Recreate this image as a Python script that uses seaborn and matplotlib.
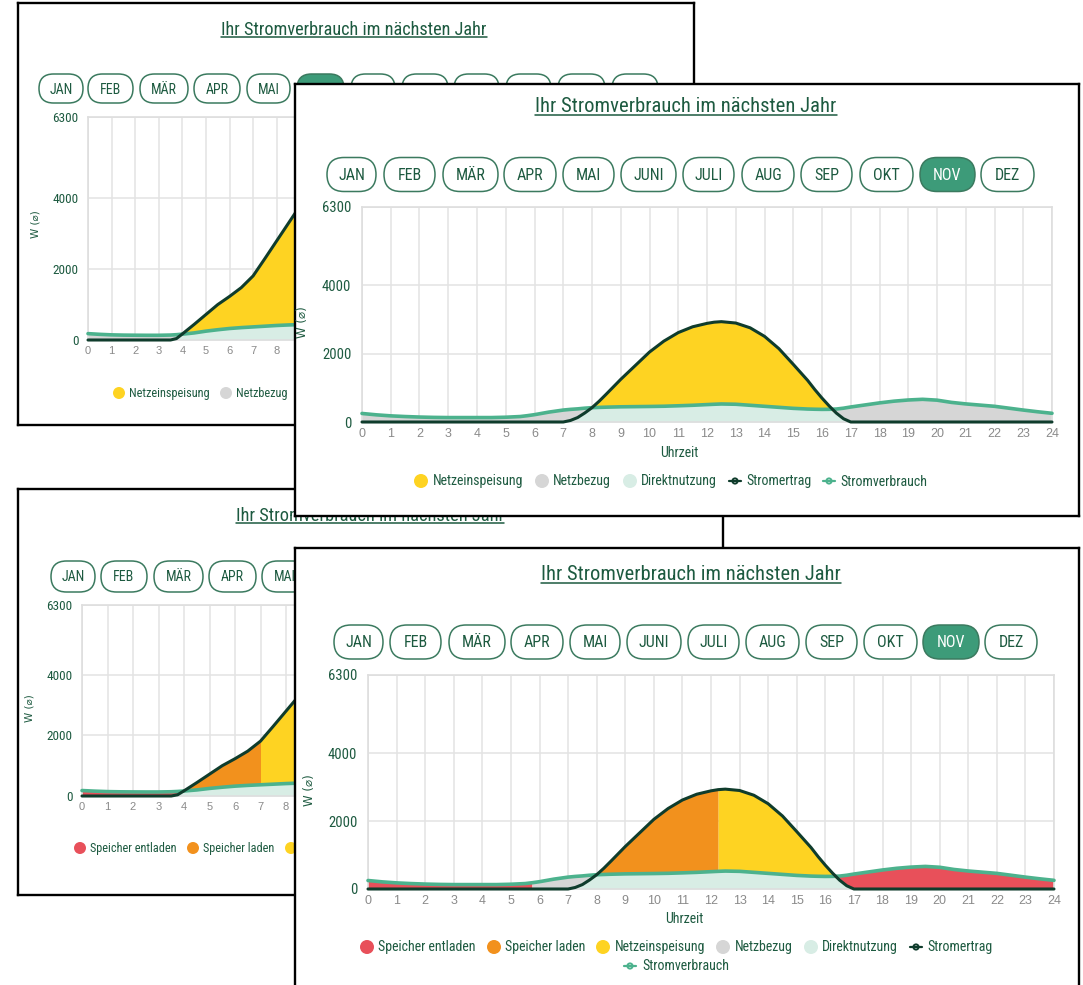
import numpy as np
import matplotlib
matplotlib.use("Agg")
import matplotlib.pyplot as plt
import seaborn as sns
from matplotlib.patches import FancyBboxPatch, Circle
from matplotlib.lines import Line2D

# ---------------- data ----------------
titel = "Ihr Stromverbrauch im nächsten Jahr"
monate = ["JAN", "FEB", "MÄR", "APR", "MAI", "JUNI", "JULI", "AUG", "SEP", "OKT", "NOV", "DEZ"]
x_ticks = list(range(0, 25))
y_ticks = [0, 2000, 4000, 6300]
x_label = "Uhrzeit"
y_label = "W (\u2300)"

legend_basis = ["Netzeinspeisung", "Netzbezug", "Direktnutzung", "Stromertrag", "Stromverbrauch"]
legend_speicher = ["Speicher entladen", "Speicher laden"] + legend_basis

# November (Stunden, W)
nov_stunden = [0, 0.5, 1, 1.5, 2, 2.5, 3, 3.5, 4, 4.5, 5, 5.5, 5.75, 6, 6.5, 7, 7.25, 7.5, 7.75, 8,
               8.25, 8.5, 9, 9.5, 10, 10.5, 11, 11.5, 12, 12.25, 12.5, 13, 13.5, 14, 14.5, 15, 15.5,
               15.75, 16, 16.25, 16.5, 16.75, 17, 17.5, 18, 18.5, 19, 19.5, 20, 20.5, 21, 21.5, 22,
               22.5, 23, 23.5, 24]
nov_stromertrag = [0, 0, 0, 0, 0, 0, 0, 0, 0, 0, 0, 0, 0, 0, 0, 0, 45, 130, 265, 420,
                   610, 820, 1250, 1650, 2050, 2370, 2620, 2790, 2890, 2925, 2940, 2900, 2760, 2510, 2150, 1690, 1220,
                   950, 700, 470, 260, 95, 0, 0, 0, 0, 0, 0, 0, 0, 0, 0, 0,
                   0, 0, 0, 0]
nov_stromverbrauch = [250, 210, 180, 160, 145, 135, 130, 130, 130, 130, 140, 160, 185, 215, 290, 350, 370, 385, 405, 420,
                      428, 435, 445, 450, 455, 462, 475, 490, 510, 520, 528, 520, 490, 460, 430, 400, 380,
                      374, 370, 372, 380, 405, 440, 500, 560, 610, 645, 665, 640, 575, 530, 495, 460,
                      405, 350, 300, 255]
nov_speicher_leer_bis = 5.75    # Speicher entladen bis
nov_speicher_voll_ab = 12.25    # Speicher laden bis

# Juni (Stunden, W) - sichtbarer Teil
juni_stunden = [0, 0.5, 1, 1.5, 2, 2.5, 3, 3.5, 3.75, 4, 4.5, 5, 5.5, 6, 6.5, 7, 7.5, 8, 8.5, 9, 9.5]
juni_stromertrag = [0, 0, 0, 0, 0, 0, 0, 0, 40, 170, 440, 720, 1000, 1230, 1480, 1810, 2300, 2800, 3300, 3800, 4250]
juni_stromverbrauch = [180, 160, 145, 138, 135, 133, 133, 140, 150, 165, 200, 250, 290, 325, 350, 370, 390, 410, 425, 435, 445]
juni_speicher_voll_ab = 7.0

# ---------------- style ----------------
sns.set_theme(style="white")
FONT = ['Liberation Sans Narrow', 'Roboto Condensed', 'Roboto', 'DejaVu Sans']
plt.rcParams['font.family'] = FONT

C_TEXT = '#1d5a40'
C_BTN = '#3b7a5f'
C_SEL = '#3d9b79'
C_YEL = '#fed322'
C_ORA = '#f2911d'
C_RED = '#e8505a'
C_GRAY = '#d6d6d6'
C_MINT = '#d8ede5'
C_ERTRAG = '#0f3c2c'
C_VERB = '#4cb28d'
C_GRID = '#e3e3e3'
C_TICK = '#8a8a8a'

W, H = 1083, 985
fig = plt.figure(figsize=(W / 100, H / 100), dpi=100)
fig.patch.set_facecolor('white')


def rect(x0, y0, x1, y1):
    return [x0 / W, 1 - y1 / H, (x1 - x0) / W, (y1 - y0) / H]


titles = []
farben = {"Speicher entladen": C_RED, "Speicher laden": C_ORA, "Netzeinspeisung": C_YEL,
          "Netzbezug": C_GRAY, "Direktnutzung": C_MINT, "Stromertrag": C_ERTRAG,
          "Stromverbrauch": C_VERB}


def panel(z, frame, title_pos, title_w, underline_y, buttons, btn_y, btn_h, btn_fs, selected,
          plot, tick_fs, ylab_pos, xlab_pos, lab_fs, legend, leg_fs, dot_r,
          stunden, ertrag, verbrauch, speicher=None, label_cut=None):
    x0, y0, x1, y1 = frame
    fa = fig.add_axes(rect(*frame), zorder=z)
    fa.set_xlim(x0, x1)
    fa.set_ylim(y1, y0)
    fa.set_xticks([])
    fa.set_yticks([])
    fa.set_facecolor('white')
    for s in fa.spines.values():
        s.set_color('black')
        s.set_linewidth(1.7)
    t = fa.text(title_pos[0], title_pos[1], titel, ha='center', va='center',
                fontsize=13, color=C_TEXT)
    titles.append((fa, t, title_w, underline_y))
    for lab, (bx0, bx1) in zip(monate, buttons):
        sel = lab == selected
        fa.add_patch(FancyBboxPatch((bx0, btn_y - btn_h / 2), bx1 - bx0, btn_h,
                                    boxstyle=f"round,pad=0,rounding_size={btn_h / 2}",
                                    fc=C_SEL if sel else 'white', ec=C_BTN, lw=1.1))
        if label_cut is not None and bx0 >= label_cut:
            continue   # label lies under the next panel
        fa.text((bx0 + bx1) / 2, btn_y + 1, lab, ha='center', va='center',
                fontsize=btn_fs, color='white' if sel else C_TEXT)
    fa.text(ylab_pos[0], ylab_pos[1], y_label, rotation=90, ha='center', va='center',
            fontsize=lab_fs, color=C_TEXT, family=['DejaVu Sans'])
    if label_cut is None or xlab_pos[0] < label_cut:
        fa.text(xlab_pos[0], xlab_pos[1], x_label, ha='center', va='center',
                fontsize=lab_fs + 1.5, color=C_TEXT)
    # legend
    for kind, name, mx, tx, ly in legend:
        col = farben[name]
        if kind == 'dot':
            fa.add_patch(Circle((mx, ly), dot_r, color=col, lw=0))
        else:
            fa.add_line(Line2D([mx - 6, mx + 6], [ly, ly], color=col, lw=1.6))
            fa.add_patch(Circle((mx, ly), 2.6, fc='white', ec=col, lw=1.4))
        if label_cut is not None and tx >= label_cut:
            continue
        fa.text(tx, ly + 0.5, name, ha='left', va='center', fontsize=leg_fs, color=C_TEXT)

    # chart
    ax = fig.add_axes(rect(*plot), zorder=z + 0.5)
    ax.set_facecolor('none')
    ax.set_xlim(0, 24)
    ax.set_ylim(0, 6300)
    ax.set_axisbelow(True)
    ax.set_xticks(x_ticks)
    ax.set_yticks(y_ticks)
    ax.grid(True, color=C_GRID, lw=1.1)
    for s in ax.spines.values():
        s.set_color('#dedede')
        s.set_linewidth(1.2)
    ax.tick_params(axis='x', length=0, pad=tick_fs * 0.5, labelsize=tick_fs, labelcolor=C_TICK)
    ax.tick_params(axis='y', length=0, pad=tick_fs * 0.85, labelsize=tick_fs + 1.5, labelcolor=C_TEXT)
    px_per_h = (plot[2] - plot[0]) / 24.0
    for h, lab in zip(x_ticks, ax.get_xticklabels()):
        lab.set_family(['Liberation Sans', 'DejaVu Sans'])
        if label_cut is not None and plot[0] + h * px_per_h > label_cut - 6:
            lab.set_visible(False)   # under the next panel

    t_ = np.asarray(stunden, float)
    e = np.asarray(ertrag, float)
    v = np.asarray(verbrauch, float)
    direkt = np.minimum(e, v)
    ax.fill_between(t_, 0, direkt, color=C_MINT, lw=0, zorder=2)
    if speicher is None:
        ax.fill_between(t_, direkt, v, color=C_GRAY, lw=0, zorder=2)
        ax.fill_between(t_, direkt, e, color=C_YEL, lw=0, zorder=2)
    else:
        leer_bis, voll_ab = speicher
        if leer_bis is None:
            ax.fill_between(t_, direkt, v, color=C_RED, lw=0, zorder=2)
        else:
            m_red = (t_ <= leer_bis) | (t_ >= voll_ab)
            m_gray = (t_ >= leer_bis) & (t_ <= voll_ab)
            ax.fill_between(t_, direkt, v, where=m_red, color=C_RED, lw=0, zorder=2)
            ax.fill_between(t_, direkt, v, where=m_gray, color=C_GRAY, lw=0, zorder=2)
        ax.fill_between(t_, direkt, e, where=t_ <= voll_ab, color=C_ORA, lw=0, zorder=2)
        ax.fill_between(t_, direkt, e, where=t_ >= voll_ab, color=C_YEL, lw=0, zorder=2)
    sns.lineplot(x=t_, y=v, ax=ax, color=C_VERB, linewidth=2.6, clip_on=False, zorder=4)
    sns.lineplot(x=t_, y=e, ax=ax, color=C_ERTRAG, linewidth=2.2, clip_on=False, zorder=5)
    ax.set_xlabel('')
    ax.set_ylabel('')
    return fa, ax


# Panel A (Juni, ohne Speicher)
panel(1, (18, 3, 694, 425), (354, 30), 265, 37,
      [(39, 83), (88, 133), (140, 188), (194, 240), (247, 290), (297, 344), (351, 395), (402, 448),
       (454, 499), (506, 551), (558, 605), (612, 658)], 88.5, 29, 10, "JUNI",
      (88, 117, 654, 340), 8, (36, 224), (350, 368), 7.5,
      [('dot', legend_basis[0], 119, 129, 393), ('dot', legend_basis[1], 226, 236, 393),
       ('dot', legend_basis[2], 308, 318, 393), ('line', legend_basis[3], 408, 417, 393),
       ('line', legend_basis[4], 490, 499, 393)], 8.8, 6,
      juni_stunden, juni_stromertrag, juni_stromverbrauch, label_cut=295)

# Panel C (Juni, mit Speicher)
panel(2, (18, 489, 723, 895), (370, 516), 266, 523,
      [(51, 95), (101, 147), (154, 203), (209, 256), (262, 308), (315, 363), (370, 416), (423, 470),
       (477, 523), (531, 578), (585, 634), (640, 687)], 576.5, 31, 10, "JUNI",
      (82, 605, 694, 796), 8, (29, 708), (370, 826), 7.5,
      [('dot', legend_speicher[0], 80, 90, 848), ('dot', legend_speicher[1], 193, 203, 848),
       ('dot', legend_speicher[2], 291, 301, 848), ('dot', legend_speicher[3], 404, 414, 848),
       ('dot', legend_speicher[4], 486, 496, 848), ('line', legend_speicher[5], 584, 594, 848),
       ('line', legend_speicher[6], 370, 380, 866)], 8.8, 6,
      juni_stunden, juni_stromertrag, juni_stromverbrauch, speicher=(None, juni_speicher_voll_ab),
      label_cut=295)

# Panel B (November, ohne Speicher)
panel(3, (295, 84, 1079, 516), (686, 106), 299, 115,
      [(327, 376), (384, 435), (443, 498), (504, 556), (563, 614), (621, 676), (683, 734), (742, 794),
       (801, 852), (860, 913), (920, 975), (981, 1034)], 174.5, 34, 11.5, "NOV",
      (362, 207, 1052, 422), 9, (303, 322), (679, 453), 8.5,
      [('dot', legend_basis[0], 421, 433, 481), ('dot', legend_basis[1], 542, 553, 481),
       ('dot', legend_basis[2], 630, 641, 481), ('line', legend_basis[3], 735, 746, 481),
       ('line', legend_basis[4], 829, 840, 481)], 10, 7,
      nov_stunden, nov_stromertrag, nov_stromverbrauch)

# Panel D (November, mit Speicher)
panel(4, (295, 548, 1079, 1000), (691, 575), 297, 583,
      [(334, 383), (390, 441), (449, 505), (511, 563), (570, 620), (627, 681), (688, 739), (746, 799),
       (806, 857), (864, 917), (923, 979), (985, 1037)], 642, 34, 11.5, "NOV",
      (368, 675, 1054, 889), 9, (310, 790), (684, 919), 8.5,
      [('dot', legend_speicher[0], 367, 378, 947), ('dot', legend_speicher[1], 494, 505, 947),
       ('dot', legend_speicher[2], 603, 615, 947), ('dot', legend_speicher[3], 723, 735, 947),
       ('dot', legend_speicher[4], 811, 822, 947), ('line', legend_speicher[5], 916, 927, 947),
       ('line', legend_speicher[6], 630, 642, 966)], 10, 7,
      nov_stunden, nov_stromertrag, nov_stromverbrauch,
      speicher=(nov_speicher_leer_bis, nov_speicher_voll_ab))

# fit title widths and add underline
fig.canvas.draw()
r = fig.canvas.get_renderer()
for fa, t, tw, uy in titles:
    bb = t.get_window_extent(r)
    t.set_fontsize(13 * tw / bb.width)
fig.canvas.draw()
for fa, t, tw, uy in titles:
    bb = t.get_window_extent(r)
    (xa, _), (xb, _) = fa.transData.inverted().transform([[bb.x0, bb.y0], [bb.x1, bb.y0]])
    fa.add_line(Line2D([xa, xb], [uy, uy], color=C_TEXT, lw=1.1))

fig.savefig("out.png", dpi=100, facecolor='white')
